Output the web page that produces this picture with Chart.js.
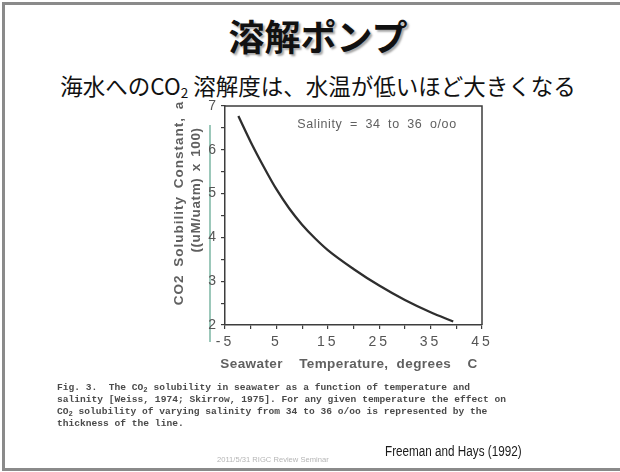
<!DOCTYPE html>
<html lang="ja">
<head>
<meta charset="utf-8">
<title>溶解ポンプ</title>
<script src="https://cdn.jsdelivr.net/npm/chart.js@4.4.1/dist/chart.umd.min.js"></script>
<style>
  html, body { margin: 0; padding: 0; background: #fff; }
  #slide { position: relative; width: 620px; height: 472px; overflow: hidden; background: #fff; }
  #plot { position: absolute; left: 0; top: 0; }
  .abs { position: absolute; white-space: pre; }
  .frame { position: absolute; background: #8a8a8a; }
  #title { left: 8px; width: 620px; top: 13px; height: 44px; line-height: 44px; text-align: center;
           font-family: "Noto Sans CJK JP", sans-serif; font-weight: 700; font-size: 36px; color: #111;
           text-shadow: 2px 2px 2px rgba(0,0,0,0.35); }
  #subtitle { left: 8px; width: 620px; top: 71px; height: 28px; line-height: 28px; text-align: center;
              font-family: "Noto Sans CJK JP", sans-serif; font-size: 22.5px; color: #111; }
  #subtitle sub { font-size: 0.6em; vertical-align: -0.25em; }
  .axisTitle { font-family: "Liberation Sans", Arial, sans-serif; color: #606060; font-weight: 600; }
  .rot { transform: translate(-50%, -50%) rotate(-90deg); }
  .cen { transform: translate(-50%, -50%); }
  #caption { left: 57px; top: 381.5px; font-family: "Liberation Mono", "DejaVu Sans Mono", monospace;
             font-size: 9.6px; line-height: 12.3px; color: #4a4a4a; font-weight: 700; }
  #caption sub { font-size: 0.75em; vertical-align: -0.3em; line-height: 0; }
  #credit { left: 385px; top: 442px; font-family: "Liberation Sans", sans-serif;
            font-size: 15.5px; color: #1a1a1a; transform: scaleX(0.755); transform-origin: 0 0; }
  #footer { left: 217px; top: 455px; font-family: "Liberation Sans", sans-serif; font-size: 7.6px; color: #b5b5b5; }
  #scanline { left: 209px; top: 125px; width: 2px; height: 217px; background: #9cc8ba; }
</style>
</head>
<body>
<div id="slide">
  <div class="frame" style="left:2px;top:2px;width:618px;height:3px"></div>
  <div class="frame" style="left:2px;top:2px;width:3px;height:468px"></div>
  <div class="frame" style="left:2px;top:468px;width:618px;height:3px"></div>

  <div id="title" class="abs">溶解ポンプ</div>
  <div id="subtitle" class="abs">海水へのCO<sub>2</sub> 溶解度は、水温が低いほど大きくなる</div>

  <div id="scanline" class="abs"></div>
  <canvas id="plot" width="620" height="472"></canvas>

  <div class="abs axisTitle rot" style="left:178px;top:203px;font-size:13.5px;letter-spacing:1px;word-spacing:3px">CO2 Solubility Constant, a</div>
  <div class="abs axisTitle rot" style="left:195px;top:190px;font-size:13.5px;letter-spacing:0.6px;word-spacing:2px">((uM/uatm) x 100)</div>
  <div class="abs axisTitle cen" style="left:349px;top:363px;font-size:13.5px;letter-spacing:0.4px;word-spacing:4px">Seawater  Temperature, degrees  C</div>
  <div class="abs axisTitle cen" style="left:377px;top:124px;font-size:12.5px;letter-spacing:0.6px;word-spacing:3.5px;font-weight:500">Salinity = 34 to 36 o/oo</div>

  <div id="caption" class="abs">Fig. 3.  The CO<sub>2</sub> solubility in seawater as a function of temperature and
salinity [Weiss, 1974; Skirrow, 1975]. For any given temperature the effect on
CO<sub>2</sub> solubility of varying salinity from 34 to 36 o/oo is represented by the
thickness of the line.</div>
  <div id="credit" class="abs">Freeman and Hays (1992)</div>
  <div id="footer" class="abs">2011/5/31 RIGC Review Seminar</div>
</div>

<script>
// Seawater temperature (°C) and CO2 solubility constant ((uM/uatm) x 100)
const temperature = [-2.4, 0, 2.5, 5, 7.5, 10, 12.5, 15, 20, 25, 30, 35, 39.4];
const solubility  = [6.77, 6.18, 5.62, 5.1, 4.66, 4.29, 3.98, 3.71, 3.28, 2.9, 2.57, 2.29, 2.08];

// Labelled ticks on each axis
const xTickLabels = [-5, 5, 15, 25, 35, 45];
const yTickLabels = [2, 3, 4, 5, 6, 7];

const axisColor = '#3d3d3d';
const tickColor = '#555';

Chart.defaults.font.family = '"Liberation Sans", Arial, sans-serif';

// Closes the plot box on the top and right sides
const boxPlugin = {
  id: 'plotBox',
  beforeDraw(chart) {
    chart.ctx.letterSpacing = '3px';
  },
  afterDraw(chart) {
    const { ctx, chartArea: a } = chart;
    ctx.save();
    ctx.letterSpacing = '0px';
    ctx.strokeStyle = axisColor;
    ctx.lineWidth = 1.5;
    ctx.beginPath();
    ctx.moveTo(a.left, a.top);
    ctx.lineTo(a.right, a.top);
    ctx.lineTo(a.right, a.bottom);
    ctx.stroke();
    ctx.restore();
  }
};

new Chart(document.getElementById('plot'), {
  type: 'line',
  data: {
    datasets: [{
      data: temperature.map((t, i) => ({ x: t, y: solubility[i] })),
      borderColor: '#2e2e2e',
      borderWidth: 2.3,
      pointRadius: 0,
      fill: false,
      cubicInterpolationMode: 'monotone'
    }]
  },
  options: {
    responsive: false,
    animation: false,
    events: [],
    layout: { padding: { left: 185, right: 138, top: 106, bottom: 117 } },
    plugins: { legend: { display: false }, tooltip: { enabled: false } },
    scales: {
      x: {
        type: 'linear',
        min: -5, max: 45,
        afterFit(scale) { scale.height = 30; },
        border: { color: axisColor, width: 1.5 },
        grid: { drawOnChartArea: false, drawTicks: true, tickLength: 4, color: axisColor, lineWidth: 1.2 },
        ticks: {
          stepSize: 5, autoSkip: false, maxRotation: 0, padding: 5,
          color: tickColor, font: { size: 14 },
          callback: v => xTickLabels.includes(v) ? String(v) : ''
        }
      },
      y: {
        type: 'linear',
        min: 2, max: 7,
        afterFit(scale) { scale.width = 40; },
        border: { color: axisColor, width: 1.5 },
        grid: { drawOnChartArea: false, drawTicks: true, tickLength: 4, color: axisColor, lineWidth: 1.2 },
        ticks: {
          stepSize: 0.5, autoSkip: false, padding: 2,
          color: tickColor, font: { size: 14 },
          callback: v => yTickLabels.includes(v) ? String(v) : ''
        }
      }
    }
  },
  plugins: [boxPlugin]
});
</script>
</body>
</html>
